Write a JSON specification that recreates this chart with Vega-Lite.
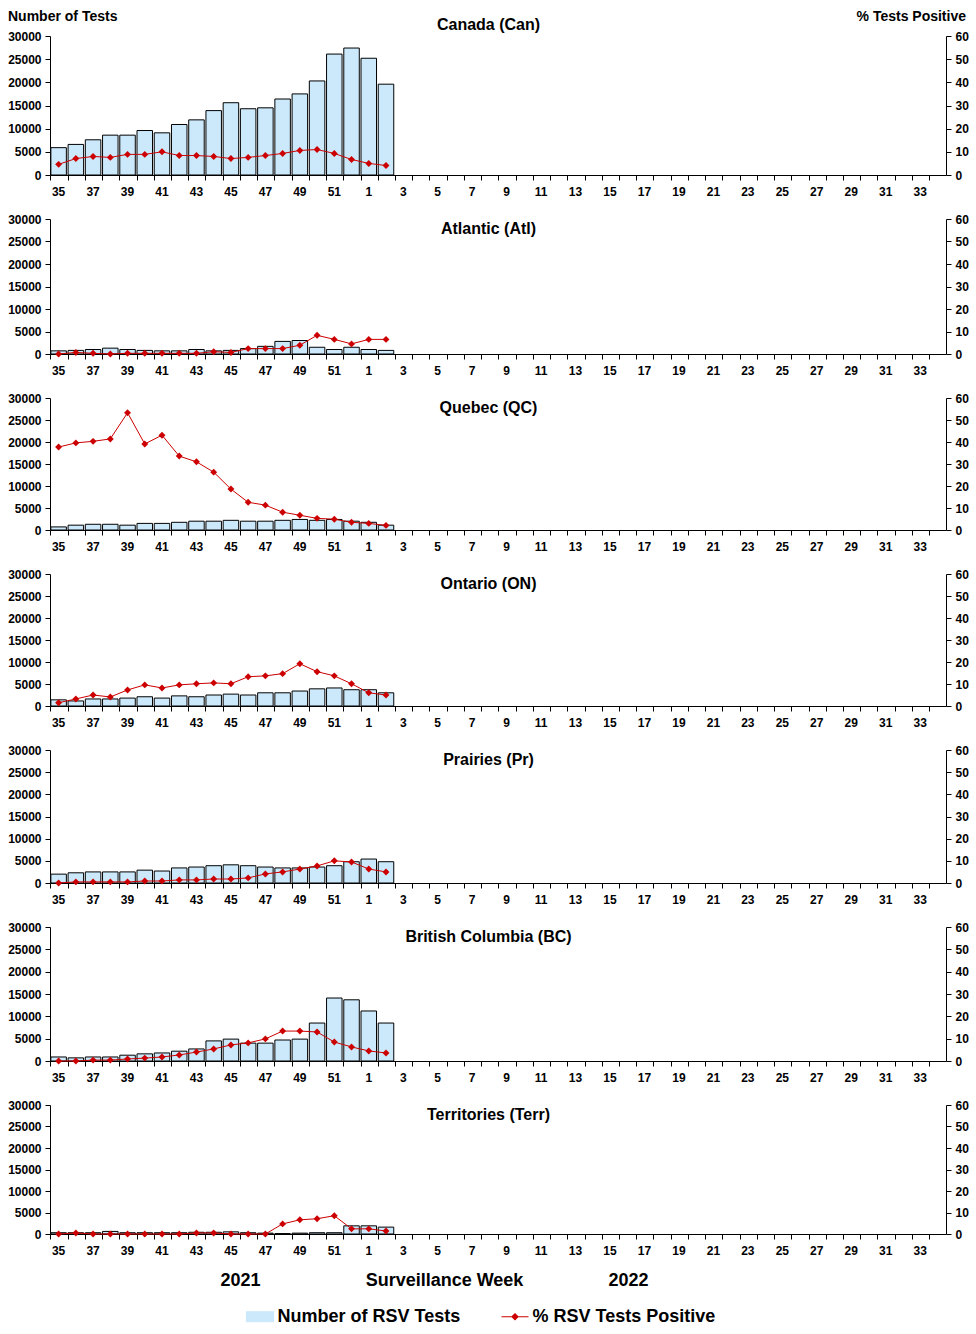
{
  "$schema": "https://vega.github.io/schema/vega-lite/v6.json",
  "background": "white",
  "padding": {"left": 7, "top": 9, "right": 5, "bottom": 5},
  "spacing": 16,
  "datasets": {
    "Can": [
      {"w":35,"t":5900,"p":4.6},{"w":36,"t":6600,"p":7.1},{"w":37,"t":7600,"p":8.0},{"w":38,"t":8600,"p":7.6},{"w":39,"t":8600,"p":8.9},{"w":40,"t":9600,"p":8.9},{"w":41,"t":9100,"p":10.0},{"w":42,"t":10900,"p":8.4},{"w":43,"t":11900,"p":8.4},{"w":44,"t":13900,"p":8.0},{"w":45,"t":15600,"p":7.1},{"w":46,"t":14300,"p":7.6},{"w":47,"t":14500,"p":8.4},{"w":48,"t":16400,"p":9.3},{"w":49,"t":17500,"p":10.6},{"w":50,"t":20300,"p":11.0},{"w":51,"t":26100,"p":9.3},{"w":52,"t":27400,"p":6.7},{"w":1,"t":25200,"p":5.0},{"w":2,"t":19600,"p":4.1}
    ],
    "Atl": [
      {"w":35,"t":700,"p":0},{"w":36,"t":800,"p":0.7},{"w":37,"t":1000,"p":0.3},{"w":38,"t":1300,"p":0},{"w":39,"t":1000,"p":0.3},{"w":40,"t":800,"p":0.3},{"w":41,"t":700,"p":0.3},{"w":42,"t":700,"p":0.3},{"w":43,"t":1000,"p":0.3},{"w":44,"t":700,"p":1.0},{"w":45,"t":800,"p":0.7},{"w":46,"t":1200,"p":2.4},{"w":47,"t":1700,"p":2.4},{"w":48,"t":2800,"p":2.4},{"w":49,"t":3000,"p":3.9},{"w":50,"t":1500,"p":8.3},{"w":51,"t":1000,"p":6.5},{"w":52,"t":1500,"p":4.5},{"w":1,"t":1000,"p":6.5},{"w":2,"t":800,"p":6.5}
    ],
    "QC": [
      {"w":35,"t":700,"p":37.7},{"w":36,"t":1100,"p":39.6},{"w":37,"t":1300,"p":40.3},{"w":38,"t":1300,"p":41.4},{"w":39,"t":1100,"p":53.3},{"w":40,"t":1500,"p":39.1},{"w":41,"t":1500,"p":43.1},{"w":42,"t":1750,"p":33.6},{"w":43,"t":2000,"p":31.0},{"w":44,"t":2000,"p":26.3},{"w":45,"t":2200,"p":18.6},{"w":46,"t":2000,"p":12.6},{"w":47,"t":2000,"p":11.3},{"w":48,"t":2200,"p":8.1},{"w":49,"t":2400,"p":6.7},{"w":50,"t":2200,"p":5.3},{"w":51,"t":2400,"p":4.9},{"w":52,"t":2000,"p":3.5},{"w":1,"t":1750,"p":3.0},{"w":2,"t":1100,"p":2.1}
    ],
    "ON": [
      {"w":35,"t":1400,"p":1.5},{"w":36,"t":1150,"p":3.2},{"w":37,"t":1600,"p":5.0},{"w":38,"t":1600,"p":4.1},{"w":39,"t":1800,"p":7.3},{"w":40,"t":2100,"p":9.6},{"w":41,"t":1800,"p":8.2},{"w":42,"t":2300,"p":9.6},{"w":43,"t":2100,"p":10.1},{"w":44,"t":2500,"p":10.5},{"w":45,"t":2700,"p":10.1},{"w":46,"t":2500,"p":13.3},{"w":47,"t":3000,"p":13.7},{"w":48,"t":3000,"p":14.7},{"w":49,"t":3400,"p":19.2},{"w":50,"t":3900,"p":15.6},{"w":51,"t":4100,"p":13.7},{"w":52,"t":3700,"p":10.1},{"w":1,"t":3700,"p":6.0},{"w":2,"t":3000,"p":5.0}
    ],
    "Pr": [
      {"w":35,"t":2000,"p":0},{"w":36,"t":2300,"p":0.5},{"w":37,"t":2500,"p":0.5},{"w":38,"t":2500,"p":0.5},{"w":39,"t":2500,"p":0.5},{"w":40,"t":2900,"p":0.9},{"w":41,"t":2700,"p":0.9},{"w":42,"t":3400,"p":1.4},{"w":43,"t":3600,"p":1.4},{"w":44,"t":3900,"p":1.8},{"w":45,"t":4100,"p":1.8},{"w":46,"t":3900,"p":2.3},{"w":47,"t":3600,"p":4.1},{"w":48,"t":3400,"p":5.0},{"w":49,"t":3400,"p":6.3},{"w":50,"t":3600,"p":7.7},{"w":51,"t":3900,"p":10.0},{"w":52,"t":4800,"p":9.5},{"w":1,"t":5400,"p":6.3},{"w":2,"t":4800,"p":5.0}
    ],
    "BC": [
      {"w":35,"t":900,"p":0},{"w":36,"t":700,"p":0},{"w":37,"t":900,"p":0.4},{"w":38,"t":900,"p":0.4},{"w":39,"t":1300,"p":0.9},{"w":40,"t":1600,"p":1.3},{"w":41,"t":1800,"p":1.8},{"w":42,"t":2200,"p":2.7},{"w":43,"t":2700,"p":4.0},{"w":44,"t":4500,"p":5.4},{"w":45,"t":4900,"p":7.2},{"w":46,"t":4000,"p":8.1},{"w":47,"t":4000,"p":9.9},{"w":48,"t":4700,"p":13.4},{"w":49,"t":4900,"p":13.4},{"w":50,"t":8500,"p":13.0},{"w":51,"t":14100,"p":8.5},{"w":52,"t":13700,"p":6.3},{"w":1,"t":11200,"p":4.5},{"w":2,"t":8500,"p":3.6}
    ],
    "Terr": [
      {"w":35,"t":300,"p":0},{"w":36,"t":300,"p":0.5},{"w":37,"t":300,"p":0},{"w":38,"t":600,"p":0},{"w":39,"t":300,"p":0},{"w":40,"t":300,"p":0},{"w":41,"t":300,"p":0},{"w":42,"t":300,"p":0},{"w":43,"t":400,"p":0.5},{"w":44,"t":400,"p":0.5},{"w":45,"t":500,"p":0},{"w":46,"t":300,"p":0},{"w":47,"t":200,"p":0},{"w":48,"t":100,"p":4.7},{"w":49,"t":200,"p":6.6},{"w":50,"t":300,"p":7.1},{"w":51,"t":300,"p":8.5},{"w":52,"t":1900,"p":2.4},{"w":1,"t":1900,"p":2.4},{"w":2,"t":1600,"p":1.4}
    ]
  },
  "vconcat": [
    {
      "width": 896, "height": 139,
      "data": {"name": "Can"},
      "title": {"text": "Canada (Can)", "offset": -24, "dx": -9.5},
      "layer": [
        {"mark": {"type": "bar", "stroke": "#000", "strokeWidth": 1},
         "encoding": {
           "x": {"field": "w", "type": "ordinal", "scale": {"domain": [35,36,37,38,39,40,41,42,43,44,45,46,47,48,49,50,51,52,1,2,3,4,5,6,7,8,9,10,11,12,13,14,15,16,17,18,19,20,21,22,23,24,25,26,27,28,29,30,31,32,33,34], "paddingInner": 0.1, "paddingOuter": 0.05},
                 "axis": {"title": null, "labelAngle": 0, "bandPosition": 0, "labelOverlap": false, "labelExpr": "datum.value % 2 == 1 ? datum.label : ''"}},
           "y": {"field": "t", "type": "quantitative", "scale": {"domain": [0, 30000]},
                 "axis": {"values": [0,5000,10000,15000,20000,25000,30000], "format": "d", "title": "Number of Tests", "titleAngle": 0, "titleAlign": "left", "titleX": -42.5, "titleY": -20, "titleBaseline": "middle"}},
           "color": {"datum": "Number of RSV Tests", "scale": {"domain": ["Number of RSV Tests", "% RSV Tests Positive"], "range": ["#cce9fb", "#cc0000"]}, "legend": null}
         }},
        {"mark": {"type": "line", "strokeWidth": 1, "point": {"shape": "diamond", "filled": true, "size": 48}},
         "encoding": {
           "x": {"field": "w", "type": "ordinal"},
           "y": {"field": "p", "type": "quantitative", "scale": {"domain": [0, 60]},
                 "axis": {"orient": "right", "values": [0,10,20,30,40,50,60], "title": "%  Tests Positive", "titleAngle": 0, "titleAlign": "right", "titleX": 19.5, "titleY": -20, "titleBaseline": "middle"}},
           "color": {"datum": "% RSV Tests Positive", "legend": null}
         }}
      ],
      "resolve": {"scale": {"y": "independent"}}
    },
    {
      "width": 896, "height": 135,
      "data": {"name": "Atl"},
      "title": {"text": "Atlantic (Atl)", "offset": -24, "dx": -9.5},
      "layer": [
        {"mark": {"type": "bar", "stroke": "#000", "strokeWidth": 1},
         "encoding": {
           "x": {"field": "w", "type": "ordinal", "scale": {"domain": [35,36,37,38,39,40,41,42,43,44,45,46,47,48,49,50,51,52,1,2,3,4,5,6,7,8,9,10,11,12,13,14,15,16,17,18,19,20,21,22,23,24,25,26,27,28,29,30,31,32,33,34], "paddingInner": 0.1, "paddingOuter": 0.05},
                 "axis": {"title": null, "labelAngle": 0, "bandPosition": 0, "labelOverlap": false, "labelExpr": "datum.value % 2 == 1 ? datum.label : ''"}},
           "y": {"field": "t", "type": "quantitative", "scale": {"domain": [0, 30000]},
                 "axis": {"values": [0,5000,10000,15000,20000,25000,30000], "format": "d", "title": null}},
           "color": {"datum": "Number of RSV Tests", "scale": {"domain": ["Number of RSV Tests", "% RSV Tests Positive"], "range": ["#cce9fb", "#cc0000"]}, "legend": null}
         }},
        {"mark": {"type": "line", "strokeWidth": 1, "point": {"shape": "diamond", "filled": true, "size": 48}},
         "encoding": {
           "x": {"field": "w", "type": "ordinal"},
           "y": {"field": "p", "type": "quantitative", "scale": {"domain": [0, 60]},
                 "axis": {"orient": "right", "values": [0,10,20,30,40,50,60], "title": null}},
           "color": {"datum": "% RSV Tests Positive", "legend": null}
         }}
      ],
      "resolve": {"scale": {"y": "independent"}}
    },
    {
      "width": 896, "height": 132,
      "data": {"name": "QC"},
      "title": {"text": "Quebec (QC)", "offset": -24, "dx": -9.5},
      "layer": [
        {"mark": {"type": "bar", "stroke": "#000", "strokeWidth": 1},
         "encoding": {
           "x": {"field": "w", "type": "ordinal", "scale": {"domain": [35,36,37,38,39,40,41,42,43,44,45,46,47,48,49,50,51,52,1,2,3,4,5,6,7,8,9,10,11,12,13,14,15,16,17,18,19,20,21,22,23,24,25,26,27,28,29,30,31,32,33,34], "paddingInner": 0.1, "paddingOuter": 0.05},
                 "axis": {"title": null, "labelAngle": 0, "bandPosition": 0, "labelOverlap": false, "labelExpr": "datum.value % 2 == 1 ? datum.label : ''"}},
           "y": {"field": "t", "type": "quantitative", "scale": {"domain": [0, 30000]},
                 "axis": {"values": [0,5000,10000,15000,20000,25000,30000], "format": "d", "title": null}},
           "color": {"datum": "Number of RSV Tests", "scale": {"domain": ["Number of RSV Tests", "% RSV Tests Positive"], "range": ["#cce9fb", "#cc0000"]}, "legend": null}
         }},
        {"mark": {"type": "line", "strokeWidth": 1, "point": {"shape": "diamond", "filled": true, "size": 48}},
         "encoding": {
           "x": {"field": "w", "type": "ordinal"},
           "y": {"field": "p", "type": "quantitative", "scale": {"domain": [0, 60]},
                 "axis": {"orient": "right", "values": [0,10,20,30,40,50,60], "title": null}},
           "color": {"datum": "% RSV Tests Positive", "legend": null}
         }}
      ],
      "resolve": {"scale": {"y": "independent"}}
    },
    {
      "width": 896, "height": 132,
      "data": {"name": "ON"},
      "title": {"text": "Ontario (ON)", "offset": -24, "dx": -9.5},
      "layer": [
        {"mark": {"type": "bar", "stroke": "#000", "strokeWidth": 1},
         "encoding": {
           "x": {"field": "w", "type": "ordinal", "scale": {"domain": [35,36,37,38,39,40,41,42,43,44,45,46,47,48,49,50,51,52,1,2,3,4,5,6,7,8,9,10,11,12,13,14,15,16,17,18,19,20,21,22,23,24,25,26,27,28,29,30,31,32,33,34], "paddingInner": 0.1, "paddingOuter": 0.05},
                 "axis": {"title": null, "labelAngle": 0, "bandPosition": 0, "labelOverlap": false, "labelExpr": "datum.value % 2 == 1 ? datum.label : ''"}},
           "y": {"field": "t", "type": "quantitative", "scale": {"domain": [0, 30000]},
                 "axis": {"values": [0,5000,10000,15000,20000,25000,30000], "format": "d", "title": null}},
           "color": {"datum": "Number of RSV Tests", "scale": {"domain": ["Number of RSV Tests", "% RSV Tests Positive"], "range": ["#cce9fb", "#cc0000"]}, "legend": null}
         }},
        {"mark": {"type": "line", "strokeWidth": 1, "point": {"shape": "diamond", "filled": true, "size": 48}},
         "encoding": {
           "x": {"field": "w", "type": "ordinal"},
           "y": {"field": "p", "type": "quantitative", "scale": {"domain": [0, 60]},
                 "axis": {"orient": "right", "values": [0,10,20,30,40,50,60], "title": null}},
           "color": {"datum": "% RSV Tests Positive", "legend": null}
         }}
      ],
      "resolve": {"scale": {"y": "independent"}}
    },
    {
      "width": 896, "height": 133,
      "data": {"name": "Pr"},
      "title": {"text": "Prairies (Pr)", "offset": -24, "dx": -9.5},
      "layer": [
        {"mark": {"type": "bar", "stroke": "#000", "strokeWidth": 1},
         "encoding": {
           "x": {"field": "w", "type": "ordinal", "scale": {"domain": [35,36,37,38,39,40,41,42,43,44,45,46,47,48,49,50,51,52,1,2,3,4,5,6,7,8,9,10,11,12,13,14,15,16,17,18,19,20,21,22,23,24,25,26,27,28,29,30,31,32,33,34], "paddingInner": 0.1, "paddingOuter": 0.05},
                 "axis": {"title": null, "labelAngle": 0, "bandPosition": 0, "labelOverlap": false, "labelExpr": "datum.value % 2 == 1 ? datum.label : ''"}},
           "y": {"field": "t", "type": "quantitative", "scale": {"domain": [0, 30000]},
                 "axis": {"values": [0,5000,10000,15000,20000,25000,30000], "format": "d", "title": null}},
           "color": {"datum": "Number of RSV Tests", "scale": {"domain": ["Number of RSV Tests", "% RSV Tests Positive"], "range": ["#cce9fb", "#cc0000"]}, "legend": null}
         }},
        {"mark": {"type": "line", "strokeWidth": 1, "point": {"shape": "diamond", "filled": true, "size": 48}},
         "encoding": {
           "x": {"field": "w", "type": "ordinal"},
           "y": {"field": "p", "type": "quantitative", "scale": {"domain": [0, 60]},
                 "axis": {"orient": "right", "values": [0,10,20,30,40,50,60], "title": null}},
           "color": {"datum": "% RSV Tests Positive", "legend": null}
         }}
      ],
      "resolve": {"scale": {"y": "independent"}}
    },
    {
      "width": 896, "height": 134,
      "data": {"name": "BC"},
      "title": {"text": "British Columbia (BC)", "offset": -24, "dx": -9.5},
      "layer": [
        {"mark": {"type": "bar", "stroke": "#000", "strokeWidth": 1},
         "encoding": {
           "x": {"field": "w", "type": "ordinal", "scale": {"domain": [35,36,37,38,39,40,41,42,43,44,45,46,47,48,49,50,51,52,1,2,3,4,5,6,7,8,9,10,11,12,13,14,15,16,17,18,19,20,21,22,23,24,25,26,27,28,29,30,31,32,33,34], "paddingInner": 0.1, "paddingOuter": 0.05},
                 "axis": {"title": null, "labelAngle": 0, "bandPosition": 0, "labelOverlap": false, "labelExpr": "datum.value % 2 == 1 ? datum.label : ''"}},
           "y": {"field": "t", "type": "quantitative", "scale": {"domain": [0, 30000]},
                 "axis": {"values": [0,5000,10000,15000,20000,25000,30000], "format": "d", "title": null}},
           "color": {"datum": "Number of RSV Tests", "scale": {"domain": ["Number of RSV Tests", "% RSV Tests Positive"], "range": ["#cce9fb", "#cc0000"]}, "legend": null}
         }},
        {"mark": {"type": "line", "strokeWidth": 1, "point": {"shape": "diamond", "filled": true, "size": 48}},
         "encoding": {
           "x": {"field": "w", "type": "ordinal"},
           "y": {"field": "p", "type": "quantitative", "scale": {"domain": [0, 60]},
                 "axis": {"orient": "right", "values": [0,10,20,30,40,50,60], "title": null}},
           "color": {"datum": "% RSV Tests Positive", "legend": null}
         }}
      ],
      "resolve": {"scale": {"y": "independent"}}
    },
    {
      "width": 896, "height": 129,
      "data": {"name": "Terr"},
      "title": {"text": "Territories (Terr)", "offset": -24, "dx": -9.5},
      "layer": [
        {"mark": {"type": "bar", "stroke": "#000", "strokeWidth": 1},
         "encoding": {
           "x": {"field": "w", "type": "ordinal", "scale": {"domain": [35,36,37,38,39,40,41,42,43,44,45,46,47,48,49,50,51,52,1,2,3,4,5,6,7,8,9,10,11,12,13,14,15,16,17,18,19,20,21,22,23,24,25,26,27,28,29,30,31,32,33,34], "paddingInner": 0.1, "paddingOuter": 0.05},
                 "axis": {"labelAngle": 0, "bandPosition": 0, "labelOverlap": false, "labelExpr": "datum.value % 2 == 1 ? datum.label : ''",
                          "title": "2021\u00a0\u00a0\u00a0\u00a0\u00a0\u00a0\u00a0\u00a0\u00a0\u00a0\u00a0\u00a0\u00a0\u00a0\u00a0\u00a0\u00a0\u00a0\u00a0\u00a0\u00a0Surveillance Week\u00a0\u00a0\u00a0\u00a0\u00a0\u00a0\u00a0\u00a0\u00a0\u00a0\u00a0\u00a0\u00a0\u00a0\u00a0\u00a0\u00a02022",
                          "titleFontSize": 18, "titleX": 384, "titleY": 46, "titleAlign": "center", "titleBaseline": "middle"}},
           "y": {"field": "t", "type": "quantitative", "scale": {"domain": [0, 30000]},
                 "axis": {"values": [0,5000,10000,15000,20000,25000,30000], "format": "d", "title": null}},
           "color": {"datum": "Number of RSV Tests", "scale": {"domain": ["Number of RSV Tests", "% RSV Tests Positive"], "range": ["#cce9fb", "#cc0000"]},
                     "legend": {"orient": "none", "legendX": 195.5, "legendY": 197, "direction": "horizontal", "title": null, "padding": 0,
                                "labelFontSize": 18, "labelFontWeight": "bold", "labelColor": "#000", "labelOffset": 3, "labelLimit": 0, "columnPadding": 38,
                                "symbolSize": 729,
                                "encode": {"symbols": {"update": {
                                  "shape": {"signal": "datum.value === 'Number of RSV Tests' ? 'M-1,-0.37L1,-0.37L1,0.37L-1,0.37Z' : 'M-1,0L1,0M-0.22,0L0,-0.22L0.22,0L0,0.22Z'"},
                                  "fill": {"signal": "datum.value === 'Number of RSV Tests' ? '#cce9fb' : '#cc0000'"},
                                  "stroke": {"signal": "datum.value === 'Number of RSV Tests' ? '#000000' : '#cc0000'"},
                                  "strokeWidth": {"value": 1.2}, "opacity": {"value": 1}, "fillOpacity": {"value": 1}, "strokeOpacity": {"value": 1}}}}}}
         }},
        {"mark": {"type": "line", "strokeWidth": 1, "point": {"shape": "diamond", "filled": true, "size": 48}},
         "encoding": {
           "x": {"field": "w", "type": "ordinal"},
           "y": {"field": "p", "type": "quantitative", "scale": {"domain": [0, 60]},
                 "axis": {"orient": "right", "values": [0,10,20,30,40,50,60], "title": null}},
           "color": {"datum": "% RSV Tests Positive",
                     "legend": {"orient": "none", "legendX": 195.5, "legendY": 197, "direction": "horizontal", "title": null, "padding": 0,
                                "labelFontSize": 18, "labelFontWeight": "bold", "labelColor": "#000", "labelOffset": 3, "labelLimit": 0, "columnPadding": 38,
                                "symbolSize": 729,
                                "encode": {"symbols": {"update": {
                                  "shape": {"signal": "datum.value === 'Number of RSV Tests' ? 'M-1,-0.37L1,-0.37L1,0.37L-1,0.37Z' : 'M-1,0L1,0M-0.22,0L0,-0.22L0.22,0L0,0.22Z'"},
                                  "fill": {"signal": "datum.value === 'Number of RSV Tests' ? '#cce9fb' : '#cc0000'"},
                                  "stroke": {"signal": "datum.value === 'Number of RSV Tests' ? '#000000' : '#cc0000'"},
                                  "strokeWidth": {"value": 1.2}, "opacity": {"value": 1}, "fillOpacity": {"value": 1}, "strokeOpacity": {"value": 1}}}}}}
         }}
      ],
      "resolve": {"scale": {"y": "independent"}}
    }
  ],
  "resolve": {"legend": {"color": "independent"}},
  "config": {
    "font": "Liberation Sans",
    "view": {"stroke": null},
    "title": {"fontSize": 16, "fontWeight": "bold", "color": "#000", "font": "Liberation Sans"},
    "axis": {"grid": false, "labelFont": "Liberation Sans", "labelFontSize": 12, "labelFontWeight": "bold", "labelColor": "#000",
             "titleFont": "Liberation Sans", "titleFontSize": 14, "titleFontWeight": "bold", "titleColor": "#000",
             "domainColor": "#000", "tickColor": "#000", "tickSize": 5, "labelPadding": 4},
    "axisX": {"labelPadding": 6},
    "legend": {"labelFont": "Liberation Sans"}
  }
}
